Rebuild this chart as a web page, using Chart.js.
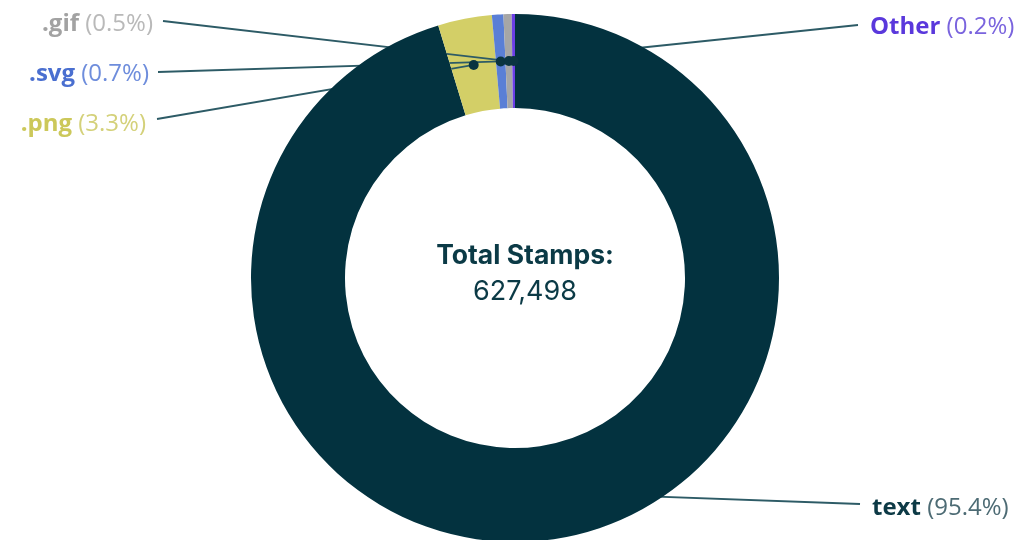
<!DOCTYPE html>
<html lang="en">
  <head>
    <meta charset="UTF-8" />
    <title>Stamps by type</title>
    <script src="https://cdn.jsdelivr.net/npm/chart.js"></script>
    <style>
      html, body { margin: 0; padding: 0; background: #ffffff; overflow: hidden; }
      #wrap { width: 1021px; height: 556px; }
    </style>
  </head>
  <body>
    <div id="wrap"><canvas id="stamps"></canvas></div>

    <script>
      // data
      var categories = ["text", ".png", ".svg", ".gif", "Other"];
      var shares = [95.4, 3.3, 0.7, 0.5, 0.2];
      var totalStamps = 627498;

      var sliceColors = ["#03323f", "#d3cf67", "#5a7fd6", "#a6a6a6", "#6b3ee6"];
      var nameColors = ["#0d3a46", "#ccc85a", "#4a6fd0", "#a2a2a2", "#5a38dc"];
      var pctColors = ["#4d6b74", "#d4d17a", "#6e8ddc", "#b9b9b9", "#7a64de"];

      // where each label sits: side, x of the near edge, y middle, line start
      var labelSpots = [
        { side: "right", x: 872, y: 508, lx: 860, ly: 504 },
        { side: "left", x: 146, y: 124, lx: 157, ly: 119 },
        { side: "left", x: 149, y: 74, lx: 158, ly: 72 },
        { side: "left", x: 153, y: 24, lx: 163, ly: 21 },
        { side: "right", x: 870, y: 27, lx: 858, ly: 25 },
      ];

      var labelFont = '"Open Sans", sans-serif';
      var labelSize = 24;

      function drawLines(chart) {
        var ctx = chart.ctx;
        chart.getDatasetMeta(0).data.forEach(function (arc, i) {
          var p = arc.getCenterPoint();
          var s = labelSpots[i];
          ctx.strokeStyle = "#2d5b66";
          ctx.lineWidth = 1.8;
          ctx.beginPath();
          ctx.moveTo(s.lx, s.ly);
          ctx.lineTo(p.x, p.y);
          ctx.stroke();
        });
      }

      var calloutPlugin = {
        id: "callouts",
        beforeDatasetsDraw: function (chart) {
          chart.ctx.save();
          drawLines(chart);
          chart.ctx.restore();
        },
        afterDatasetsDraw: function (chart) {
          var ctx = chart.ctx;
          var arcs = chart.getDatasetMeta(0).data;
          ctx.save();
          // lines stay visible over the small light slices only
          ctx.beginPath();
          arcs.forEach(function (arc, i) {
            if (i === 0) return;
            ctx.moveTo(arc.x + arc.outerRadius * Math.cos(arc.startAngle), arc.y + arc.outerRadius * Math.sin(arc.startAngle));
            ctx.arc(arc.x, arc.y, arc.outerRadius, arc.startAngle, arc.endAngle);
            ctx.arc(arc.x, arc.y, arc.innerRadius, arc.endAngle, arc.startAngle, true);
            ctx.closePath();
          });
          ctx.clip();
          drawLines(chart);
          ctx.restore();

          ctx.save();
          arcs.forEach(function (arc, i) {
            if (i === 0) return; // dark dot on the dark slice is not seen
            var p = arc.getCenterPoint();
            ctx.fillStyle = "#0a3440";
            ctx.beginPath();
            ctx.arc(p.x, p.y, 5, 0, Math.PI * 2);
            ctx.fill();
          });
          // labels
          ctx.textBaseline = "middle";
          arcs.forEach(function (arc, i) {
            var s = labelSpots[i];
            var name = categories[i];
            var pct = " (" + shares[i].toFixed(1) + "%)";
            ctx.font = "bold " + labelSize + "px " + labelFont;
            var wName = ctx.measureText(name).width;
            ctx.font = labelSize + "px " + labelFont;
            var wPct = ctx.measureText(pct).width;
            var x0 = s.side === "left" ? s.x - wName - wPct : s.x;
            ctx.textAlign = "left";
            ctx.font = "bold " + labelSize + "px " + labelFont;
            ctx.fillStyle = nameColors[i];
            ctx.fillText(name, x0, s.y);
            ctx.font = labelSize + "px " + labelFont;
            ctx.fillStyle = pctColors[i];
            ctx.fillText(pct, x0 + wName, s.y);
          });
          // centre text
          var c = arcs[0];
          ctx.textAlign = "center";
          ctx.fillStyle = "#0b3a46";
          ctx.font = "bold 26.5px Inter, sans-serif";
          ctx.fillText("Total Stamps:", c.x + 10, c.y - 22);
          ctx.font = "27px Inter, sans-serif";
          ctx.fillText(totalStamps.toLocaleString("en-US"), c.x + 10, c.y + 14);
          ctx.restore();
        },
      };

      new Chart(document.getElementById("stamps").getContext("2d"), {
        type: "doughnut",
        data: {
          labels: categories,
          datasets: [
            {
              data: shares,
              backgroundColor: sliceColors,
              borderWidth: 0,
            },
          ],
        },
        options: {
          responsive: true,
          maintainAspectRatio: false,
          animation: false,
          radius: 264,
          cutout: "64.4%",
          layout: { padding: { left: 9, right: 0, top: 0, bottom: 0 } },
          plugins: {
            legend: { display: false },
            tooltip: { enabled: false },
          },
        },
        plugins: [calloutPlugin],
      });
    </script>
  </body>
</html>
